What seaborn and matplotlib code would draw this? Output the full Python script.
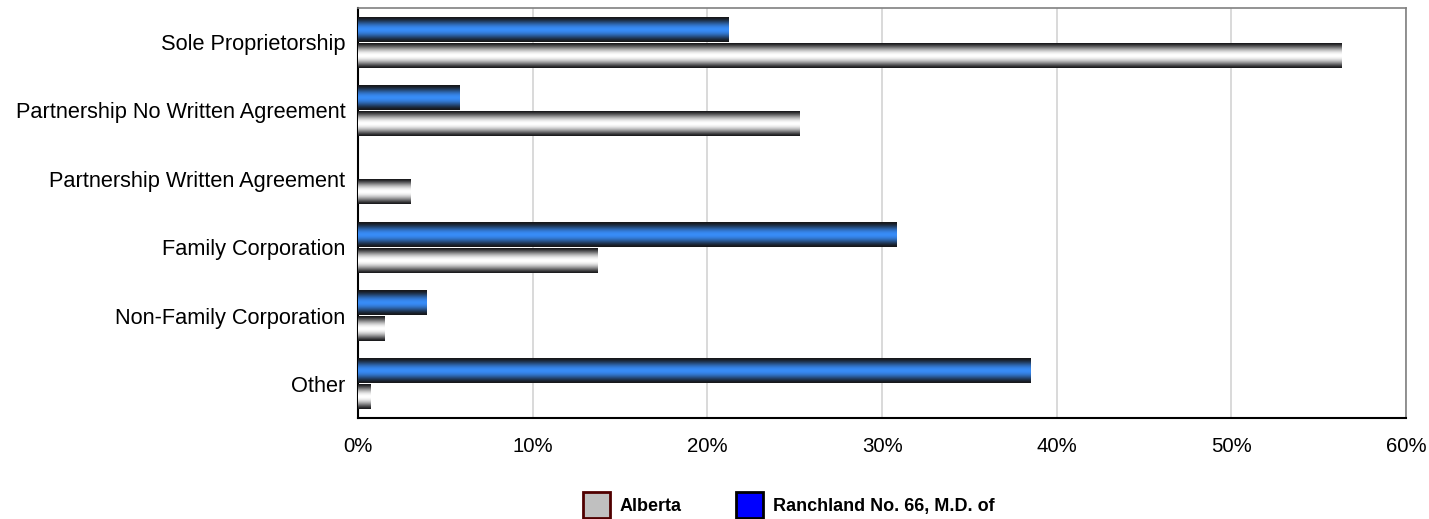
import matplotlib
matplotlib.use("Agg")
import matplotlib.pyplot as plt
import matplotlib.patches as mpatches
import numpy as np
import pandas as pd
import seaborn as sns

sns.set_theme(style="white")
plt.rcParams["font.family"] = ["Liberation Sans", "DejaVu Sans"]

# Data (percent of farms)
categories = ["Sole Proprietorship", "Partnership No Written Agreement",
              "Partnership Written Agreement", "Family Corporation",
              "Non-Family Corporation", "Other"]
ranchland = [21.2, 5.8, 0.0, 30.8, 3.9, 38.5]
alberta = [56.3, 25.3, 3.0, 13.7, 1.5, 0.7]
series_names = ["Ranchland No. 66, M.D. of", "Alberta"]
x_ticks = [0, 10, 20, 30, 40, 50, 60]

df = pd.DataFrame({
    "category": categories * 2,
    "value": ranchland + alberta,
    "series": [series_names[0]] * len(categories) + [series_names[1]] * len(categories),
})

fig = plt.figure(figsize=(14.29, 5.19), dpi=100)
ax = fig.add_axes([0.2505, 0.1946, 0.7335, 0.79])

sns.barplot(data=df, y="category", x="value", hue="series", hue_order=series_names,
            order=categories, orient="h", width=0.77, gap=0.05, legend=False, ax=ax,
            palette=["#3a8ef5", "#c0c0c0"], linewidth=0)

# cylinder-like shading for each bar
t = np.linspace(0, 1, 64)
dark = np.array([0.09, 0.09, 0.10])
centres = {series_names[0]: np.array([0.22, 0.55, 0.97]),
           series_names[1]: np.array([1.0, 1.0, 1.0])}
shapes = {series_names[0]: np.sin(np.pi * t) ** 1.6,
          series_names[1]: np.sin(np.pi * t) ** 1.3}

xlim, ylim = (0, 60), ax.get_ylim()
for i, bar in enumerate(ax.patches):
    name = series_names[0] if i < len(categories) else series_names[1]
    if bar.get_width() <= 0:
        continue
    grad = dark + (centres[name] - dark) * shapes[name][:, None]
    img = np.repeat(grad[:, None, :], 2, axis=1)
    x0, y0 = bar.get_x(), bar.get_y()
    im = ax.imshow(img, extent=[x0, x0 + bar.get_width(), y0, y0 + bar.get_height()],
                   aspect="auto", interpolation="bilinear", zorder=3)
    im.set_clip_path(bar)
    bar.set_facecolor("none")

ax.set_xlim(*xlim)
ax.set_ylim(*ylim)
ax.set_xticks(x_ticks)
ax.set_xticklabels([f"{v}%" for v in x_ticks])
ax.set_xlabel("")
ax.set_ylabel("")
ax.xaxis.grid(True, color="#d3d3d3", linewidth=1.2, zorder=0)
ax.set_axisbelow(True)
ax.tick_params(axis="x", length=0, labelsize=14.7, colors="black", pad=14)
ax.tick_params(axis="y", length=0, labelsize=15.7, colors="black", pad=9)
for side in ["left", "bottom"]:
    ax.spines[side].set_color("black")
    ax.spines[side].set_linewidth(1.5)
for side in ["top", "right"]:
    ax.spines[side].set_color("#808080")
    ax.spines[side].set_linewidth(1.2)

handles = [mpatches.Patch(facecolor="#c0c0c0", edgecolor="#500000", linewidth=2),
           mpatches.Patch(facecolor="#0000ff", edgecolor="black", linewidth=2)]
leg = fig.legend(handles, ["Alberta", "Ranchland No. 66, M.D. of"], loc="center",
                 bbox_to_anchor=(0.552, 0.027), ncol=2, frameon=False,
                 prop={"weight": "bold", "size": 13}, handlelength=1.5, handleheight=1.9,
                 columnspacing=3.0, handletextpad=0.55)
for txt in leg.get_texts():
    txt.set_color("black")

fig.savefig("out.png", dpi=100)
